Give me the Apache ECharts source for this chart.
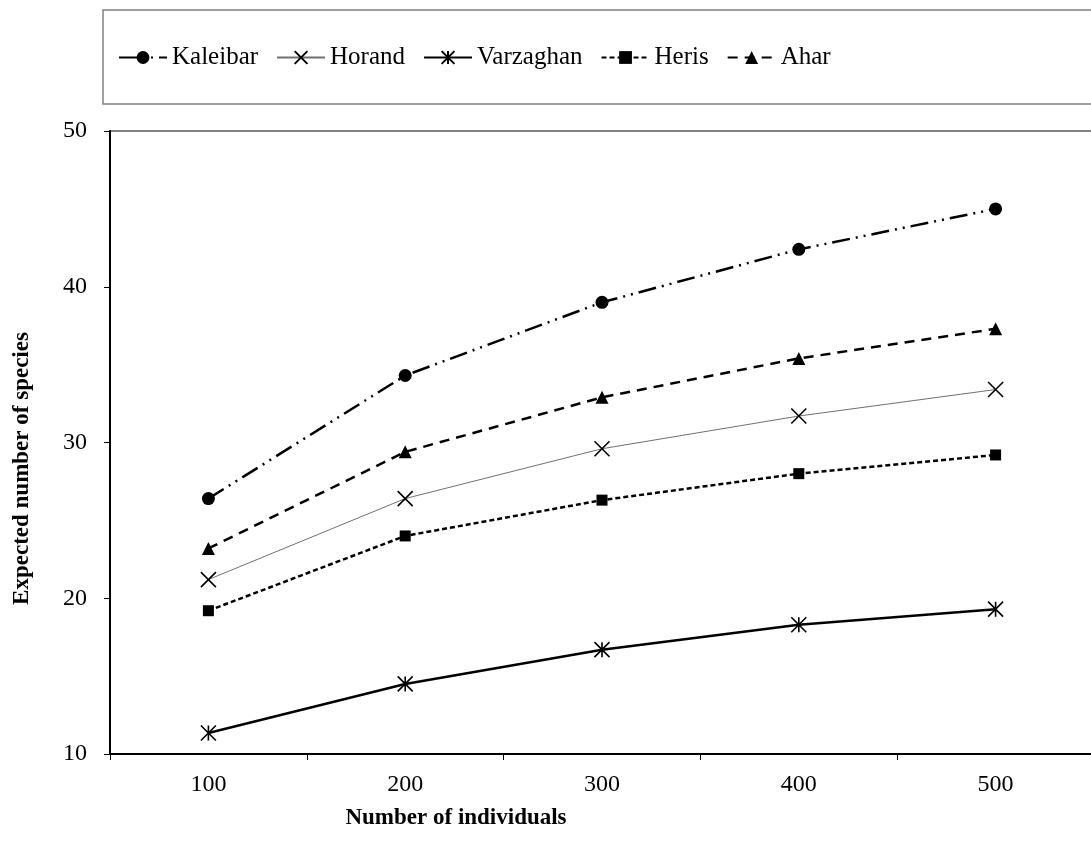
<!DOCTYPE html>
<html lang="en">
<head>
    <meta charset="UTF-8">
    <title>Expected number of species</title>
    <style>
        html, body { margin: 0; padding: 0; background: #fff; }
        #main { width: 1091px; height: 857px; }
    </style>
    <script src="https://cdn.jsdelivr.net/npm/echarts@6/dist/echarts.min.js"></script>
</head>
<body>
<div id="main"></div>
<script type="text/javascript">
    // data
    var categories = ['100', '200', '300', '400', '500'];
    var kaleibar  = [26.4, 34.3, 39.0, 42.4, 45.0];
    var horand    = [21.2, 26.4, 29.6, 31.7, 33.4];
    var varzaghan = [11.35, 14.5, 16.7, 18.3, 19.3];
    var heris     = [19.2, 24.0, 26.3, 28.0, 29.2];
    var ahar      = [23.2, 29.4, 32.9, 35.4, 37.3];
    var yTicks = { min: 10, max: 50, interval: 10 };

    var font = '"Liberation Serif", "Times New Roman", serif';
    var crossPath = 'path://M0,0L10,10M10,0L0,10';
    var starPath = 'path://M0,0L10,10M10,0L0,10M5,0L5,10';

    function lineSeries(name, data, lineStyle, symbol, size, itemStyle) {
        return {
            name: name,
            type: 'line',
            data: data,
            symbol: symbol,
            symbolSize: size,
            showSymbol: true,
            lineStyle: lineStyle,
            itemStyle: itemStyle || { color: '#000' },
            emphasis: { disabled: true }
        };
    }

    var myChart = echarts.init(document.getElementById('main'));
    var option = {
        animation: false,
        grid: {
            left: 110, top: 131, width: 984, height: 623,
            outerBoundsMode: 'none',
            show: true, borderColor: '#808080', borderWidth: 2,
            containLabel: false
        },
        legend: {
            left: 103, top: 10,
            width: 950,
            padding: [35, 400, 34, 15],
            borderColor: '#808080', borderWidth: 1.5,
            itemWidth: 48, itemHeight: 16, itemGap: 18,
            textStyle: { fontFamily: font, fontSize: 25, color: '#000' },
            data: ['Kaleibar', 'Horand', 'Varzaghan', 'Heris', 'Ahar']
        },
        xAxis: {
            type: 'category',
            data: categories,
            boundaryGap: true,
            name: 'Number of individuals',
            nameLocation: 'middle',
            nameGap: 53,
            nameTextStyle: { fontFamily: font, fontSize: 23, fontWeight: 'bold', color: '#000', padding: [0, 292, 0, 0] },
            axisLine: { lineStyle: { color: '#000', width: 2 } },
            axisTick: { show: true, length: 6, lineStyle: { color: '#000', width: 1 } },
            axisLabel: { fontFamily: font, fontSize: 24, color: '#000', margin: 19 },
            splitLine: { show: false }
        },
        yAxis: {
            type: 'value',
            min: yTicks.min, max: yTicks.max, interval: yTicks.interval,
            name: 'Expected number of species',
            nameLocation: 'middle',
            nameGap: 76,
            nameTextStyle: { fontFamily: font, fontSize: 23, fontWeight: 'bold', color: '#000', padding: [0, 52, 0, 0] },
            axisLine: { show: true, lineStyle: { color: '#000', width: 2 } },
            axisTick: { show: true, length: 6, lineStyle: { color: '#000', width: 1 } },
            axisLabel: { fontFamily: font, fontSize: 24, color: '#000', margin: 23 },
            splitLine: { show: false }
        },
        series: [
            lineSeries('Kaleibar', kaleibar, { color: '#000', width: 2.5, type: [18, 6, 2, 6, 2, 6] }, 'circle', 13),
            lineSeries('Horand', horand, { color: '#707070', width: 1 }, crossPath, 15,
                { color: '#000', borderColor: '#000', borderWidth: 1.6 }),
            lineSeries('Varzaghan', varzaghan, { color: '#000', width: 2.5 }, starPath, 15,
                { color: '#000', borderColor: '#000', borderWidth: 1.6 }),
            lineSeries('Heris', heris, { color: '#000', width: 2.5, type: [5, 3] }, 'rect', 11),
            lineSeries('Ahar', ahar, { color: '#000', width: 2.5, type: [10, 7] }, 'triangle', 13)
        ]
    };
    myChart.setOption(option);
</script>
</body>
</html>
